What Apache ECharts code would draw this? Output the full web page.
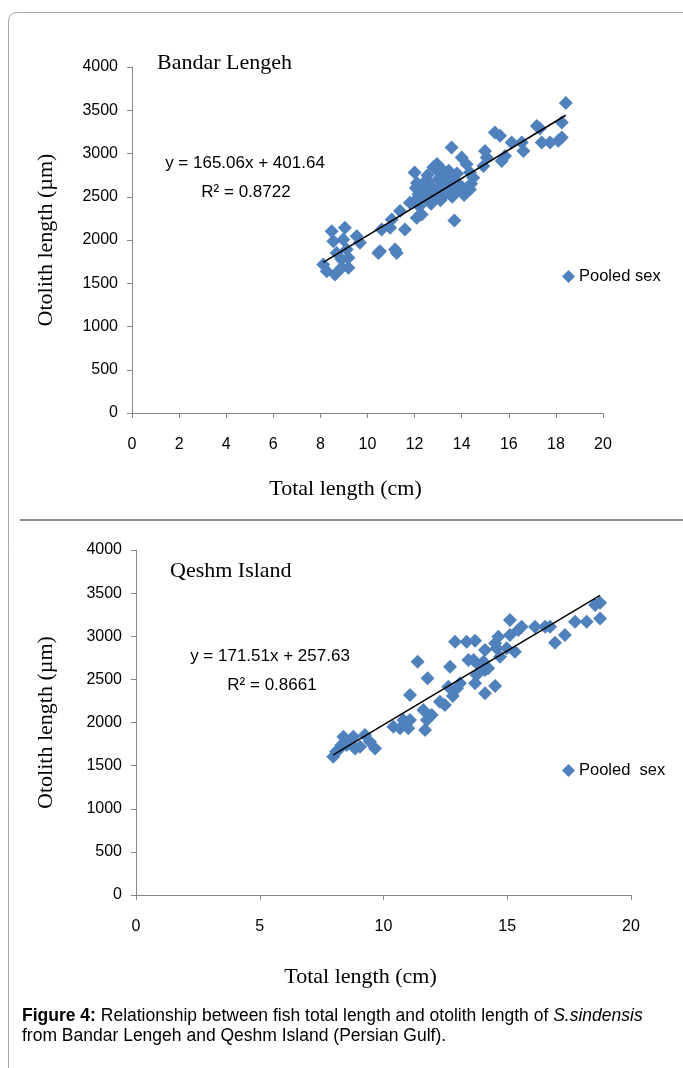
<!DOCTYPE html>
<html>
<head>
<meta charset="utf-8">
<script src="https://cdn.jsdelivr.net/npm/echarts@6/dist/echarts.min.js"></script>
<style>
html,body{margin:0;padding:0;background:#fff;}
#chart{width:683px;height:1068px;}
</style>
</head>
<body>
<div id="chart"></div>
<script>
// ---------- Data ----------
const bandarTitle = 'Bandar Lengeh';
const qeshmTitle = 'Qeshm Island';
const xTicksTop = [0, 2, 4, 6, 8, 10, 12, 14, 16, 18, 20];
const xTicksBottom = [0, 5, 10, 15, 20];
const yTicks = [0, 500, 1000, 1500, 2000, 2500, 3000, 3500, 4000];

// Bandar Lengeh: [total length cm, otolith length µm]
const bandarPoints = [
  [8.12,1716],[8.27,1638],[8.62,1600],[8.9,1678],[9.19,1678],[9.19,1794],[8.9,1774],
  [8.69,1851],[9.12,1890],[8.48,2102],[9.04,2141],[9.54,2044],[9.68,1967],[8.55,1986],[8.97,2006],
  [10.53,1870],[10.46,1850],[11.17,1890],[11.24,1851],[10.6,2122],[10.96,2141],[11.59,2122],[11.03,2238],
  [11.38,2334],[11.8,2431],[12.09,2257],[12.3,2296],[12.51,2469],[12.87,2508],[12.16,2528],
  [12.0,2780],[12.05,2600],[12.1,2660],[12.0,2450],[12.3,2510],[12.4,2620],[12.5,2690],[12.6,2560],
  [12.7,2420],[12.8,2840],[12.9,2550],[12.95,2880],[13.0,2700],[13.05,2780],[13.1,2460],[13.15,2820],
  [13.2,2620],[13.3,2740],[13.35,2540],[13.4,2660],[13.5,2600],[13.57,3069],[13.6,2500],[13.69,2226],
  [13.7,2700],[13.75,2580],[13.8,2770],[13.9,2640],[14.0,2953],[14.1,2520],[14.21,2875],[14.35,2779],
  [14.4,2650],[12.7,2620],[12.85,2480],[13.25,2560],[12.55,2750],[13.45,2800],[14.05,2600],[12.2,2390],
  [14.35,2585],[14.49,2721],[14.92,2856],[14.99,3030],[15.06,2953],[15.41,3243],[15.63,3204],
  [15.7,2914],[15.84,2972],[16.12,3127],[16.55,3127],[16.62,3030],
  [17.19,3319],[17.32,3289],[17.4,3127],[17.75,3127],[18.1,3146],[18.25,3185],[18.25,3359],[18.42,3583]
];

// Qeshm Island
const qeshmPoints = [
  [7.97,1604],[8.18,1681],[8.38,1835],[8.51,1739],[8.65,1777],[8.78,1835],[8.85,1700],[9.05,1720],
  [9.25,1855],[9.45,1777],[9.66,1700],[8.08,1662],[8.3,1740],
  [10.4,1951],[10.67,1932],[10.8,2029],[11.0,1932],[11.07,2029],[11.07,2319],[11.38,2705],
  [11.61,2145],[11.68,1913],[11.75,2029],[11.78,2512],[11.95,2087],
  [12.28,2241],[12.48,2203],[12.62,2415],[12.69,2647],[12.8,2307],[12.97,2396],[13.09,2454],
  [12.89,2936],[13.36,2936],[13.7,2948],[13.43,2725],[13.64,2725],[13.84,2667],[14.04,2705],
  [14.1,2609],[14.23,2628],[13.76,2551],[13.7,2454],[14.1,2338],[14.51,2423],
  [14.1,2841],[14.51,2918],[14.57,2860],[14.64,2994],[14.71,2763],[14.98,2860],[15.11,3014],
  [15.31,2821],[15.11,3188],[15.45,3072],[15.58,3111],[16.12,3111],[16.53,3111],[16.73,3111],
  [16.93,2925],[17.33,3014],[17.74,3168],[18.21,3168],[18.75,3207],[18.55,3362],[18.75,3389]
];

// Linear fits (as printed on the chart)
const bandarFit = { slope: 165.06, intercept: 401.64, r2: '0.8722', xFrom: 8.12, xTo: 18.42 };
const qeshmFit = { slope: 171.51, intercept: 257.63, r2: '0.8661', xFrom: 7.97, xTo: 18.75 };

// ---------- Chart ----------
const fitLine = f => [[f.xFrom, f.slope * f.xFrom + f.intercept], [f.xTo, f.slope * f.xTo + f.intercept]];

const tickFont = "'Liberation Sans', Arial, sans-serif";
const serif = "'Liberation Serif', 'Times New Roman', serif";
const axisGray = '#868686';
const blue = '#4F81BD';

function xAxis(gridIndex, interval, padRight, gap) {
  return {
    type: 'value', gridIndex, min: 0, max: 20, interval,
    name: 'Total length (cm)', nameLocation: 'middle', nameGap: gap,
    nameTextStyle: { fontFamily: serif, fontSize: 22, color: '#000', padding: [0, padRight, 0, 0] },
    axisLine: { show: true, onZero: false, lineStyle: { color: axisGray, width: 1 } },
    axisTick: { show: true, length: 5, lineStyle: { color: axisGray } },
    axisLabel: { margin: 24, fontFamily: tickFont, fontSize: 16, color: '#000' },
    splitLine: { show: false }
  };
}
function yAxis(gridIndex, gap) {
  return {
    type: 'value', gridIndex, min: 0, max: 4000, interval: 500,
    name: 'Otolith length (µm)', nameLocation: 'middle', nameGap: gap,
    nameTextStyle: { fontFamily: serif, fontSize: 22, color: '#000' },
    axisLine: { show: true, lineStyle: { color: axisGray, width: 1 } },
    axisTick: { show: true, length: 5, lineStyle: { color: axisGray } },
    axisLabel: { margin: 14, fontFamily: tickFont, fontSize: 16, color: '#000',
      formatter: v => String(v) },
    splitLine: { show: false }
  };
}

const eqFont = "'Liberation Sans', Arial, sans-serif";

const option = {
  backgroundColor: '#fff',
  animation: false,
  grid: [
    { left: 132, top: 67, width: 471, height: 346 },
    { left: 136, top: 550, width: 495, height: 345 }
  ],
  xAxis: [xAxis(0, 2, 44, 65), xAxis(1, 5, 46, 71)],
  yAxis: [yAxis(0, 75), yAxis(1, 79)],
  legend: [
    { data: ['Pooled sex'], left: 562, top: 268, padding: 0, icon: 'diamond', itemWidth: 13, itemHeight: 13, itemGap: 4,
      textStyle: { fontFamily: eqFont, fontSize: 16.5, color: '#000', padding: [0, 0, 0, -1] } },
    { data: ['Pooled  sex'], left: 562, top: 762, padding: 0, icon: 'diamond', itemWidth: 13, itemHeight: 13, itemGap: 4,
      textStyle: { fontFamily: eqFont, fontSize: 16.5, color: '#000', padding: [0, 0, 0, -1] } }
  ],
  series: [
    { name: 'Pooled sex', type: 'scatter', xAxisIndex: 0, yAxisIndex: 0, data: bandarPoints,
      symbol: 'diamond', symbolSize: 14, itemStyle: { color: blue, opacity: 1 } },
    { name: 'Linear (Bandar Lengeh)', type: 'line', xAxisIndex: 0, yAxisIndex: 0, data: fitLine(bandarFit),
      symbol: 'none', lineStyle: { color: '#000', width: 1.5 }, z: 5 },
    { name: 'Pooled  sex', type: 'scatter', xAxisIndex: 1, yAxisIndex: 1, data: qeshmPoints,
      symbol: 'diamond', symbolSize: 14, itemStyle: { color: blue, opacity: 1 } },
    { name: 'Linear (Qeshm Island)', type: 'line', xAxisIndex: 1, yAxisIndex: 1, data: fitLine(qeshmFit),
      symbol: 'none', lineStyle: { color: '#000', width: 1.5 }, z: 5 }
  ],
  graphic: [
    { type: 'rect', z: -10, silent: true,
      shape: { x: 8.5, y: 12.5, width: 700, height: 1100, r: 8 },
      style: { fill: 'none', stroke: '#a6a6a6', lineWidth: 1 } },
    { type: 'line', silent: true, shape: { x1: 20, y1: 520, x2: 683, y2: 520 },
      style: { stroke: '#8c8c8c', lineWidth: 2 } },
    { type: 'text', left: 157, top: 52, style: { text: bandarTitle, font: '22px ' + serif, fill: '#000' } },
    { type: 'text', left: 170, top: 560, style: { text: qeshmTitle, font: '22px ' + serif, fill: '#000' } },
    { type: 'text', x: 245, y: 163, style: { text: 'y = ' + bandarFit.slope + 'x + ' + bandarFit.intercept,
      font: '17px ' + eqFont, fill: '#000', align: 'center', verticalAlign: 'middle' } },
    { type: 'text', x: 246, y: 192, style: { text: 'R² = ' + bandarFit.r2,
      font: '17px ' + eqFont, fill: '#000', align: 'center', verticalAlign: 'middle' } },
    { type: 'text', x: 270, y: 656, style: { text: 'y = ' + qeshmFit.slope + 'x + ' + qeshmFit.intercept,
      font: '17px ' + eqFont, fill: '#000', align: 'center', verticalAlign: 'middle' } },
    { type: 'text', x: 272, y: 685, style: { text: 'R² = ' + qeshmFit.r2,
      font: '17px ' + eqFont, fill: '#000', align: 'center', verticalAlign: 'middle' } },
    { type: 'text', left: 22, top: 1006, style: {
      text: '{b|Figure 4:} Relationship between fish total length and otolith length of {i|S.sindensis}\nfrom Bandar Lengeh and Qeshm Island (Persian Gulf).',
      font: '17.5px ' + eqFont, fill: '#000', lineHeight: 20,
      rich: {
        b: { fontWeight: 'bold', fontFamily: eqFont, fontSize: 17.5, lineHeight: 20 },
        i: { fontStyle: 'italic', fontFamily: eqFont, fontSize: 17.5, lineHeight: 20 }
      } } }
  ]
};

const chart = echarts.init(document.getElementById('chart'), null, { renderer: 'canvas' });
chart.setOption(option);
</script>
</body>
</html>
